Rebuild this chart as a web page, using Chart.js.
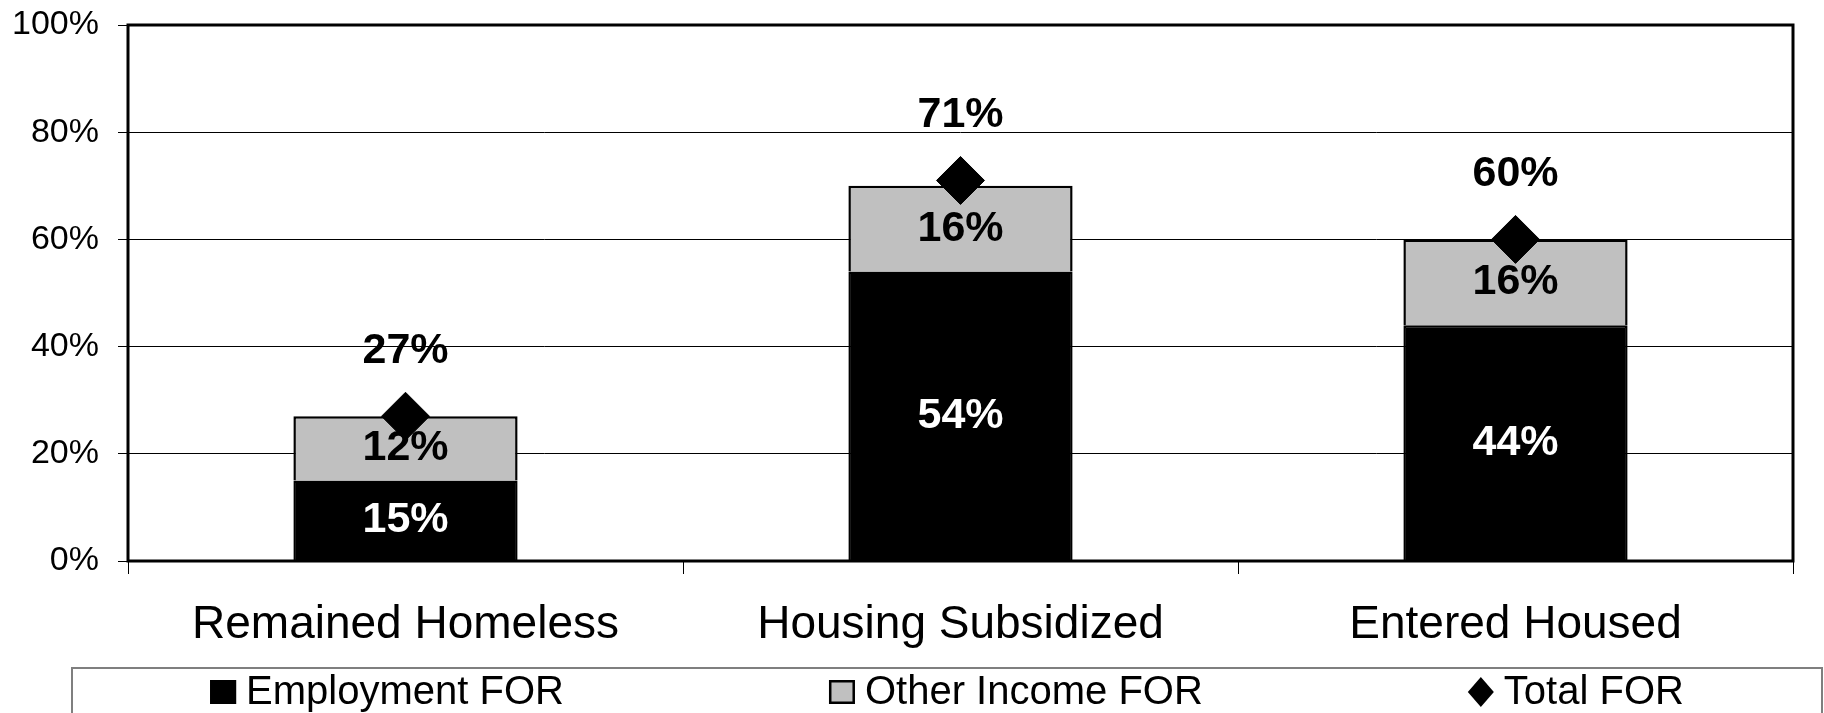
<!DOCTYPE html>
<html>
<head>
<meta charset="utf-8">
<title>FOR by exit outcome</title>
<script src="https://cdn.jsdelivr.net/npm/chart.js@4/dist/chart.umd.min.js"></script>
<style>
  html, body { margin: 0; padding: 0; background: #fff; }
  #wrap { width: 1824px; height: 713px; }
</style>
</head>
<body>
<div id="wrap"><canvas id="forChart"></canvas></div>
<script>
var categories = ['Remained Homeless', 'Housing Subsidized', 'Entered Housed'];
var employmentFOR = [15, 54, 44];
var otherIncomeFOR = [12, 16, 16];
var totalFOR = [27, 71, 60];
var yTicks = [0, 20, 40, 60, 80, 100];

var FONT = '"Liberation Sans", Arial, Helvetica, sans-serif';

// percentages written on the segments and above the diamonds
var valueLabels = {
  id: 'valueLabels',
  afterDatasetsDraw: function(chart) {
    var ctx = chart.ctx;
    ctx.save();
    ctx.font = 'bold 43px ' + FONT;
    ctx.textAlign = 'center';
    ctx.textBaseline = 'middle';
    chart.data.datasets.forEach(function(ds, di) {
      var meta = chart.getDatasetMeta(di);
      meta.data.forEach(function(el, i) {
        var txt = ds.data[i] + '%';
        if (ds.type === 'line') {
          ctx.fillStyle = '#000';
          ctx.fillText(txt, el.x, el.y - 65);
        } else {
          var p = el.getProps(['x', 'y', 'base'], true);
          ctx.fillStyle = ds.labelColor;
          ctx.fillText(txt, p.x, (p.y + p.base) / 2);
        }
      });
    });
    ctx.restore();
  }
};

// heavy frame round the plot area
var plotFrame = {
  id: 'plotFrame',
  beforeDatasetsDraw: function(chart) {
    var a = chart.chartArea, ctx = chart.ctx;
    ctx.save();
    ctx.lineWidth = 3;
    ctx.strokeStyle = '#000';
    ctx.strokeRect(a.left, a.top, a.right - a.left, a.bottom - a.top);
    ctx.restore();
  }
};

// boxed legend along the bottom
var boxLegend = {
  id: 'boxLegend',
  afterDraw: function(chart) {
    var ctx = chart.ctx;
    var top = 668, left = 72, right = chart.width - 2;
    var cy = 692, mark = 26, textGap = 10, itemGap = 265;
    ctx.save();
    ctx.strokeStyle = '#7f7f7f';
    ctx.lineWidth = 2;
    ctx.strokeRect(left, top, right - left, chart.height - top + 10);
    ctx.font = '40px ' + FONT;
    ctx.textBaseline = 'middle';
    ctx.textAlign = 'left';

    var items = chart.data.datasets.map(function(ds) {
      return { text: ds.label, color: ds.backgroundColor, diamond: ds.type === 'line',
               w: mark + textGap + ctx.measureText(ds.label).width };
    });
    var total = items.reduce(function(s, it) { return s + it.w; }, 0) + itemGap * (items.length - 1);
    var x = (left + right) / 2 - total / 2;
    items.forEach(function(it) {
      ctx.fillStyle = it.color;
      if (it.diamond) {
        ctx.beginPath();
        ctx.moveTo(x + mark / 2, cy - 15);
        ctx.lineTo(x + mark, cy);
        ctx.lineTo(x + mark / 2, cy + 15);
        ctx.lineTo(x, cy);
        ctx.closePath();
        ctx.fill();
      } else {
        ctx.fillRect(x, cy - 12, mark, 24);
        ctx.lineWidth = 2.5;
        ctx.strokeStyle = '#000';
        ctx.strokeRect(x + 1.25, cy - 10.75, mark - 2.5, 21.5);
      }
      ctx.fillStyle = '#000';
      ctx.fillText(it.text, x + mark + textGap, cy + 1);
      x += it.w + itemGap;
    });
    ctx.restore();
  }
};

new Chart(document.getElementById('forChart'), {
  data: {
    labels: categories,
    datasets: [{
      type: 'bar',
      label: 'Employment FOR',
      data: employmentFOR,
      backgroundColor: '#000000',
      borderColor: '#000000',
      borderWidth: 2.5,
      labelColor: '#ffffff',
      order: 1
    }, {
      type: 'bar',
      label: 'Other Income FOR',
      data: otherIncomeFOR,
      backgroundColor: '#c0c0c0',
      borderColor: '#000000',
      borderWidth: 2.5,
      labelColor: '#000000',
      order: 1
    }, {
      type: 'line',
      label: 'Total FOR',
      data: totalFOR,
      stack: 'total',
      showLine: false,
      backgroundColor: '#000000',
      borderColor: '#000000',
      pointStyle: 'rectRot',
      pointRadius: 24,
      pointHoverRadius: 24,
      pointBorderWidth: 1,
      order: 0
    }]
  },
  options: {
    responsive: true,
    maintainAspectRatio: false,
    animation: false,
    events: [],
    datasets: {
      bar: { categoryPercentage: 1, barPercentage: 0.404 }
    },
    layout: { padding: { top: 23, right: 31, left: 0, bottom: 0 } },
    plugins: {
      legend: { display: false },
      tooltip: { enabled: false }
    },
    scales: {
      x: {
        stacked: true,
        afterFit: function(s) { s.height = 152; },
        grid: { offset: true, drawOnChartArea: false, color: '#000', lineWidth: 1, tickLength: 13 },
        border: { display: false },
        ticks: { color: '#000', font: { family: FONT, size: 46 }, padding: 24, maxRotation: 0 }
      },
      y: {
        stacked: true,
        min: 0,
        max: 100,
        afterFit: function(s) {
          s.width = 128;
          s.paddingTop = 0;
          s.paddingBottom = 0;
        },
        afterBuildTicks: function(s) { s.ticks = yTicks.map(function(v) { return { value: v }; }); },
        grid: { color: '#000', lineWidth: 1, tickLength: 10 },
        border: { display: false },
        ticks: { color: '#000', font: { family: FONT, size: 34 }, padding: 19,
                 callback: function(v) { return v + '%'; } }
      }
    }
  },
  plugins: [plotFrame, valueLabels, boxLegend]
});
</script>
</body>
</html>
